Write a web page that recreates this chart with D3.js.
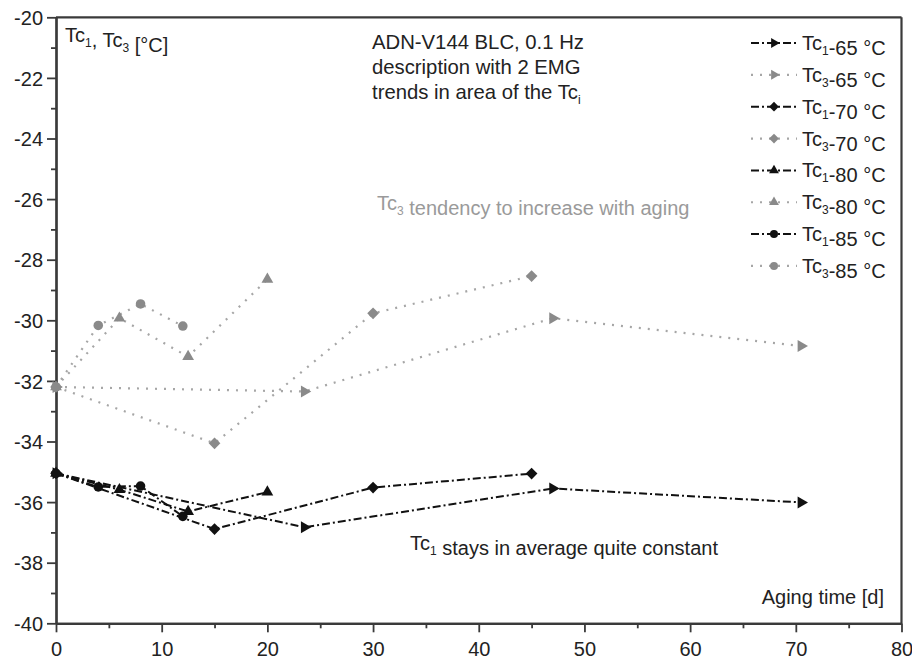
<!DOCTYPE html>
<html>
<head>
<meta charset="utf-8">
<script src="https://cdn.jsdelivr.net/npm/d3@7/dist/d3.min.js"></script>
<style>
  html, body { margin: 0; padding: 0; background: #fff; }
  svg text { font-family: "Liberation Sans", Arial, sans-serif; }
</style>
</head>
<body>
<svg id="chart" width="912" height="659"></svg>
<script>
// Aging days per test temperature
const days65 = [0, 23.5, 47, 70.5];
const days70 = [0, 15, 30, 45];
const days80 = [0, 6, 12.5, 20];
const days85 = [0, 4, 8, 12];

// Tc1 / Tc3 values [°C]
const tc1_65 = [-35.05, -36.83, -35.55, -36.01];
const tc3_65 = [-32.2, -32.35, -29.93, -30.85];
const tc1_70 = [-35.05, -36.89, -35.52, -35.06];
const tc3_70 = [-32.2, -34.06, -29.77, -28.54];
const tc1_80 = [-35.05, -35.59, -36.31, -35.67];
const tc3_80 = [-32.2, -29.93, -31.2, -28.65];
const tc1_85 = [-35.05, -35.5, -35.47, -36.47];
const tc3_85 = [-32.2, -30.17, -29.46, -30.19];

const xTicks = [0, 10, 20, 30, 40, 50, 60, 70, 80];
const xMinor = [5, 15, 25, 35, 45, 55, 65, 75];
const yTicks = [-40, -38, -36, -34, -32, -30, -28, -26, -24, -22, -20];
const yMinor = [-39, -37, -35, -33, -31, -29, -27, -25, -23, -21];

const legendLabels = [
  ["1", "-65 °C"], ["3", "-65 °C"], ["1", "-70 °C"], ["3", "-70 °C"],
  ["1", "-80 °C"], ["3", "-80 °C"], ["1", "-85 °C"], ["3", "-85 °C"]
];

const BLACK = "#111";
const GREY_MARK = "#8a8a8a";
const GREY_LINE = "#a6a6a6";

const series = [
  { x: days65, y: tc1_65, kind: "tc1", shape: "right" },
  { x: days65, y: tc3_65, kind: "tc3", shape: "right" },
  { x: days70, y: tc1_70, kind: "tc1", shape: "diamond" },
  { x: days70, y: tc3_70, kind: "tc3", shape: "diamond" },
  { x: days80, y: tc1_80, kind: "tc1", shape: "up" },
  { x: days80, y: tc3_80, kind: "tc3", shape: "up" },
  { x: days85, y: tc1_85, kind: "tc1", shape: "circle" },
  { x: days85, y: tc3_85, kind: "tc3", shape: "circle" }
];

const plotLeft = 56, plotRight = 901.5, plotTop = 17.3, plotBottom = 623.3;
const svg = d3.select("#chart");

const x = d3.scaleLinear().domain([0, 80]).range([plotLeft, plotRight]);
const y = d3.scaleLinear().domain([-40, -20]).range([plotBottom, plotTop]);

const AXIS_COL = "#3a3a3a";
const FONT = 20;
const plainNum = d => String(d); // hyphen-minus as printed on the axes

// frame (top and right)
svg.append("line").attr("x1", plotLeft).attr("x2", plotRight).attr("y1", plotTop).attr("y2", plotTop)
  .attr("stroke", AXIS_COL).attr("stroke-width", 2.2);
svg.append("line").attr("x1", plotRight).attr("x2", plotRight).attr("y1", plotTop).attr("y2", plotBottom)
  .attr("stroke", AXIS_COL).attr("stroke-width", 2.2);

// axes
const xAxis = svg.append("g").attr("transform", `translate(0,${plotBottom})`)
  .call(d3.axisBottom(x).tickValues(xTicks).tickFormat(plainNum).tickSize(9).tickSizeOuter(0).tickPadding(10));
const xMin = svg.append("g").attr("transform", `translate(0,${plotBottom})`)
  .call(d3.axisBottom(x).tickValues(xMinor).tickSize(5).tickSizeOuter(0).tickFormat(""));
const yAxis = svg.append("g").attr("transform", `translate(${plotLeft},0)`)
  .call(d3.axisLeft(y).tickValues(yTicks).tickFormat(plainNum).tickSize(9).tickSizeOuter(0).tickPadding(4));
const yMin = svg.append("g").attr("transform", `translate(${plotLeft},0)`)
  .call(d3.axisLeft(y).tickValues(yMinor).tickSize(5).tickSizeOuter(0).tickFormat(""));

[xAxis, xMin, yAxis, yMin].forEach(g => {
  g.select(".domain").attr("stroke", AXIS_COL).attr("stroke-width", 2.2);
  g.selectAll(".tick line").attr("stroke", AXIS_COL).attr("stroke-width", 1.8);
  g.selectAll(".tick text").attr("fill", "#222").style("font-size", FONT + "px")
    .style("font-family", "'Liberation Sans', Arial, sans-serif");
});
yAxis.selectAll(".tick text").attr("dy", "0.36em");

// symbol paths
function symbolPath(shape, s) {
  if (shape === "circle") return d3.symbol(d3.symbolCircle, s)();
  if (shape === "diamond") return d3.symbol(d3.symbolSquare, s)();
  return d3.symbol(d3.symbolTriangle, s)();
}
function symbolRotate(shape) {
  if (shape === "right") return 90;
  if (shape === "diamond") return 45;
  return 0;
}
const sizes = { right: 62, up: 60, diamond: 68, circle: 72 };

const lineGen = d3.line().x(d => x(d[0])).y(d => y(d[1]));

function styleLine(sel, kind) {
  if (kind === "tc1") {
    sel.attr("stroke", BLACK).attr("stroke-width", 2).attr("stroke-dasharray", "8,3,2,3");
  } else {
    sel.attr("stroke", GREY_LINE).attr("stroke-width", 2.2).attr("stroke-dasharray", "2,7")
      .attr("stroke-linecap", "butt");
  }
  return sel;
}

const plot = svg.append("g");
// dotted Tc3 first, then dash-dot Tc1
const order = series.filter(s => s.kind === "tc3").concat(series.filter(s => s.kind === "tc1"));
order.forEach(s => {
  const pts = s.x.map((d, i) => [d, s.y[i]]);
  styleLine(plot.append("path").datum(pts).attr("fill", "none").attr("d", lineGen), s.kind);
});
order.forEach(s => {
  const pts = s.x.map((d, i) => [d, s.y[i]]);
  plot.selectAll(null).data(pts).enter().append("path")
    .attr("d", symbolPath(s.shape, sizes[s.shape]))
    .attr("transform", d => `translate(${x(d[0])},${y(d[1])}) rotate(${symbolRotate(s.shape)})`)
    .attr("fill", s.kind === "tc1" ? BLACK : GREY_MARK);
});

// text helper with subscript
function subText(g, xPos, yPos, parts, opts = {}) {
  const t = g.append("text").attr("x", xPos).attr("y", yPos)
    .attr("fill", opts.fill || "#222").style("font-size", (opts.size || FONT) + "px");
  if (opts.anchor) t.attr("text-anchor", opts.anchor);
  parts.forEach(p => {
    if (typeof p === "string") {
      t.append("tspan").text(p);
    } else {
      t.append("tspan").attr("dy", 5).style("font-size", "12px").text(p.sub);
      t.append("tspan").attr("dy", -5).text("");
    }
  });
  return t;
}

// y-axis title
subText(svg, 65, 42, ["Tc", { sub: "1" }, ", Tc", { sub: "3" }, " [°C]"]);

// annotations
const ann = svg.append("g");
ann.append("text").attr("x", 372).attr("y", 49).attr("fill", "#222").style("font-size", "20.3px")
  .text("ADN-V144 BLC, 0.1 Hz");
ann.append("text").attr("x", 372).attr("y", 74).attr("fill", "#222").style("font-size", "20.3px")
  .text("description with 2 EMG");
subText(ann, 372, 99, ["trends in area of the Tc", { sub: "i" }], { size: 20.3 });
subText(ann, 377, 210, ["Tc", { sub: "3" }, " tendency to increase with aging"], { fill: "#9a9a9a" });
subText(ann, 410, 550, ["Tc", { sub: "1" }, " stays in average quite constant"]);
ann.append("text").attr("x", 884).attr("y", 604).attr("text-anchor", "end").attr("fill", "#222")
  .style("font-size", FONT + "px").text("Aging time [d]");

// legend
const leg = svg.append("g");
legendLabels.forEach((lab, i) => {
  const s = series[i];
  const ly = 43 + i * 31.85;
  styleLine(leg.append("line").attr("x1", 751).attr("x2", 797).attr("y1", ly).attr("y2", ly), s.kind);
  leg.append("path").attr("d", symbolPath(s.shape, sizes[s.shape] * 0.7))
    .attr("transform", `translate(774,${ly}) rotate(${symbolRotate(s.shape)})`)
    .attr("fill", s.kind === "tc1" ? BLACK : GREY_MARK);
  subText(leg, 802, ly + 7, ["Tc", { sub: lab[0] }, lab[1]]);
});
</script>
</body>
</html>
